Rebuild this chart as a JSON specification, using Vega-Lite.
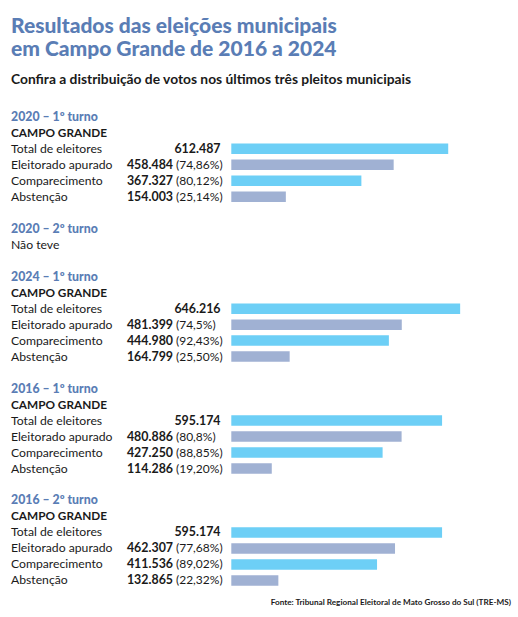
{
  "$schema": "https://vega.github.io/schema/vega-lite/v6.json",
  "autosize": "none",
  "width": 497,
  "height": 508,
  "padding": {"left": 11, "top": 103, "right": 10, "bottom": 6},
  "background": "#ffffff",
  "config": {
    "view": {"stroke": null},
    "locale": {"number": {"decimal": ",", "thousands": ".", "grouping": [3], "currency": ["R$", ""]}},
    "font": "Lato"
  },
  "title": {
    "text": ["Resultados das eleições municipais", "em Campo Grande de 2016 a 2024"],
    "subtitle": "Confira a distribuição de votos nos últimos três pleitos municipais",
    "anchor": "start",
    "frame": "group",
    "font": "Lato",
    "fontSize": 21,
    "fontWeight": 900,
    "color": "#5a7db5",
    "lineHeight": 23,
    "subtitleFont": "Lato",
    "subtitleFontSize": 13.8,
    "subtitleFontWeight": "bold",
    "subtitleColor": "#1a1a1a",
    "subtitlePadding": 13,
    "offset": 16
  },
  "datasets": {
    "rows": [
      {"line": 0, "kind": "header", "text": "2020 – 1º turno"},
      {"line": 1, "kind": "city", "text": "CAMPO GRANDE"},
      {"line": 2, "kind": "item", "text": "Total de eleitores", "votes": 612487, "pct": ""},
      {"line": 3, "kind": "item", "text": "Eleitorado apurado", "votes": 458484, "pct": "(74,86%)"},
      {"line": 4, "kind": "item", "text": "Comparecimento", "votes": 367327, "pct": "(80,12%)"},
      {"line": 5, "kind": "item", "text": "Abstenção", "votes": 154003, "pct": "(25,14%)"},
      {"line": 7, "kind": "header", "text": "2020 – 2º turno"},
      {"line": 8, "kind": "note", "text": "Não teve"},
      {"line": 10, "kind": "header", "text": "2024 – 1º turno"},
      {"line": 11, "kind": "city", "text": "CAMPO GRANDE"},
      {"line": 12, "kind": "item", "text": "Total de eleitores", "votes": 646216, "pct": ""},
      {"line": 13, "kind": "item", "text": "Eleitorado apurado", "votes": 481399, "pct": "(74,5%)"},
      {"line": 14, "kind": "item", "text": "Comparecimento", "votes": 444980, "pct": "(92,43%)"},
      {"line": 15, "kind": "item", "text": "Abstenção", "votes": 164799, "pct": "(25,50%)"},
      {"line": 17, "kind": "header", "text": "2016 – 1º turno"},
      {"line": 18, "kind": "city", "text": "CAMPO GRANDE"},
      {"line": 19, "kind": "item", "text": "Total de eleitores", "votes": 595174, "pct": ""},
      {"line": 20, "kind": "item", "text": "Eleitorado apurado", "votes": 480886, "pct": "(80,8%)"},
      {"line": 21, "kind": "item", "text": "Comparecimento", "votes": 427250, "pct": "(88,85%)"},
      {"line": 22, "kind": "item", "text": "Abstenção", "votes": 114286, "pct": "(19,20%)"},
      {"line": 24, "kind": "header", "text": "2016 – 2º turno"},
      {"line": 25, "kind": "city", "text": "CAMPO GRANDE"},
      {"line": 26, "kind": "item", "text": "Total de eleitores", "votes": 595174, "pct": ""},
      {"line": 27, "kind": "item", "text": "Eleitorado apurado", "votes": 462307, "pct": "(77,68%)"},
      {"line": 28, "kind": "item", "text": "Comparecimento", "votes": 411536, "pct": "(89,02%)"},
      {"line": 29, "kind": "item", "text": "Abstenção", "votes": 132865, "pct": "(22,32%)"},
      {"line": 30.4, "kind": "source", "text": "Fonte: Tribunal Regional Eleitoral de Mato Grosso do Sul (TRE-MS)"}
    ]
  },
  "data": {"name": "rows"},
  "encoding": {
    "y": {"field": "line", "type": "quantitative", "scale": {"domain": [-0.55, 30.6], "reverse": true, "nice": false, "zero": false}, "axis": null}
  },
  "layer": [
    {
      "transform": [{"filter": "datum.kind === 'item'"}],
      "mark": {"type": "bar", "orient": "horizontal", "size": 10.5},
      "encoding": {
        "x": {"field": "votes", "type": "quantitative", "scale": {"domain": [0, 700000], "range": [220.3, 468.2], "nice": false}, "axis": null},
        "color": {"field": "text", "type": "nominal", "legend": null,
          "scale": {"domain": ["Total de eleitores", "Eleitorado apurado", "Comparecimento", "Abstenção"],
                    "range": ["#6dcff6", "#a0b1d3", "#6dcff6", "#a0b1d3"]}}
      }
    },
    {
      "transform": [{"filter": "datum.kind === 'header'"}],
      "mark": {"type": "text", "align": "left", "baseline": "middle", "fontSize": 12.3, "fontWeight": 900, "color": "#5a7db5"},
      "encoding": {"x": {"value": 0}, "text": {"field": "text"}}
    },
    {
      "transform": [{"filter": "datum.kind === 'city'"}],
      "mark": {"type": "text", "align": "left", "baseline": "middle", "fontSize": 11.8, "fontWeight": "bold", "color": "#1a1a1a"},
      "encoding": {"x": {"value": 0}, "text": {"field": "text"}}
    },
    {
      "transform": [{"filter": "datum.kind === 'item' || datum.kind === 'note'"}],
      "mark": {"type": "text", "align": "left", "baseline": "middle", "fontSize": 12.2, "color": "#1a1a1a"},
      "encoding": {"x": {"value": 0}, "text": {"field": "text"}}
    },
    {
      "transform": [{"filter": "datum.kind === 'item' && datum.pct === ''"}],
      "mark": {"type": "text", "align": "right", "baseline": "middle", "fontSize": 12.4, "fontWeight": "bold", "color": "#1a1a1a"},
      "encoding": {"x": {"value": 209.5}, "text": {"field": "votes", "type": "quantitative", "format": ",d"}}
    },
    {
      "transform": [{"filter": "datum.kind === 'item' && datum.pct !== ''"}],
      "mark": {"type": "text", "align": "right", "baseline": "middle", "fontSize": 12.4, "fontWeight": "bold", "color": "#1a1a1a"},
      "encoding": {"x": {"value": 162}, "text": {"field": "votes", "type": "quantitative", "format": ",d"}}
    },
    {
      "transform": [{"filter": "datum.kind === 'item' && datum.pct !== ''"}],
      "mark": {"type": "text", "align": "left", "baseline": "middle", "fontSize": 12, "color": "#1a1a1a"},
      "encoding": {"x": {"value": 165}, "text": {"field": "pct"}}
    },
    {
      "transform": [{"filter": "datum.kind === 'source'"}],
      "mark": {"type": "text", "align": "right", "baseline": "middle", "fontSize": 8.2, "fontWeight": "bold", "color": "#1a1a1a"},
      "encoding": {"x": {"value": 500}, "text": {"field": "text"}}
    }
  ]
}
